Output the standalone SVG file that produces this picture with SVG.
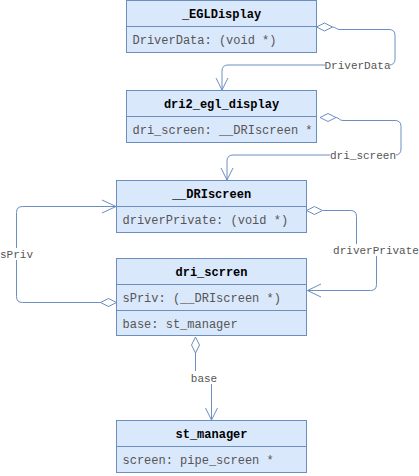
<svg xmlns="http://www.w3.org/2000/svg" width="419" height="476" viewBox="0 0 419 476">
<style>
.box{fill:#dae8fc;stroke:#6c8ebf;stroke-width:1}
.div{stroke:#6c8ebf;stroke-width:1;fill:none}
.title{font-family:"Liberation Mono","Courier New",monospace;font-size:12px;font-weight:bold;fill:#000;text-anchor:middle}
.attr{font-family:"Liberation Mono","Courier New",monospace;font-size:12px;fill:#555}
.edge{fill:none;stroke:#6c8ebf;stroke-width:1}
.dia{fill:#fff;stroke:#6c8ebf;stroke-width:1}
.lblbg{fill:#fff}
.lbl{font-family:"Liberation Mono","Courier New",monospace;font-size:11px;fill:#555;text-anchor:middle}
</style>
<rect width="419" height="476" fill="#fff"/>
<g id="connectors">
  <!-- DriverData -->
  <path class="edge" d="M332.5 27 C336 27 336 29.5 340 29.5 L389 29.5 Q395 29.5 395 35.5 L395 59 Q395 65 389 65 L228 65 Q222 65 222 71 L222 90"/>
  <polyline class="edge" points="216,78 222,90 228,78"/>
  <polygon class="dia" points="316.5,27 324.5,23 332.5,27 324.5,31"/>
  <rect class="lblbg" x="325" y="59" width="65" height="12"/>
  <text class="lbl" x="357.5" y="69">DriverData</text>
  <!-- dri_screen -->
  <path class="edge" d="M336 117.5 C339 117.5 339 120.5 343 120.5 L395 120.5 Q401 120.5 401 126.5 L401 149 Q401 155 395 155 L233 155 Q227 155 227 161 L227 180"/>
  <polyline class="edge" points="221,168 227,180 233,168"/>
  <polygon class="dia" points="320,117.5 328,113.5 336,117.5 328,121.5"/>
  <rect class="lblbg" x="330" y="149" width="66" height="12"/>
  <text class="lbl" x="363" y="159">dri_screen</text>
  <!-- driverPrivate -->
  <path class="edge" d="M322.5 210.5 L350.5 210.5 Q356.5 210.5 356.5 216.5 L356.5 244"/>
  <path class="edge" d="M376.5 256 L376.5 284.5 Q376.5 290.5 370.5 290.5 L307.5 290.5"/>
  <polyline class="edge" points="321,284 307.5,290.5 321,297"/>
  <polygon class="dia" points="306.5,210.5 314.5,206.5 322.5,210.5 314.5,214.5"/>
  <text class="lbl" x="376" y="254">driverPrivate</text>
  <!-- sPriv -->
  <path class="edge" d="M100.5 302.5 L22.5 302.5 Q16.5 302.5 16.5 296.5 L16.5 212.5 Q16.5 206.5 22.5 206.5 L116 206.5"/>
  <polyline class="edge" points="102,200 116,206.5 102,213"/>
  <polygon class="dia" points="116.5,302.5 108.5,298.5 100.5,302.5 108.5,306.5"/>
  <rect class="lblbg" x="0" y="248" width="33" height="12"/>
  <text class="lbl" x="16.5" y="258">sPriv</text>
  <!-- base -->
  <path class="edge" d="M195.5 353 L195.5 371"/>
  <path class="edge" d="M211.5 384 L211.5 420"/>
  <polyline class="edge" points="205.5,408 211.5,420 217.5,408"/>
  <polygon class="dia" points="195.5,337 199.5,345 195.5,353 191.5,345"/>
  <text class="lbl" x="204" y="382">base</text>
</g>
<g id="EGLDisplay">
  <rect class="box" x="126.5" y="0.5" width="190" height="52"/>
  <line class="div" x1="126.5" y1="26.5" x2="316.5" y2="26.5"/>
  <text class="title" x="221.5" y="18">_EGLDisplay</text>
  <text class="attr" x="132.5" y="44">DriverData: (void *)</text>
</g>
<g id="dri2_egl_display">
  <rect class="box" x="126.5" y="90.5" width="190" height="52"/>
  <line class="div" x1="126.5" y1="116.5" x2="316.5" y2="116.5"/>
  <text class="title" x="221.5" y="108">dri2_egl_display</text>
  <text class="attr" x="132.5" y="134">dri_screen: __DRIscreen *</text>
</g>
<g id="DRIscreen">
  <rect class="box" x="116.5" y="180.5" width="190" height="52"/>
  <line class="div" x1="116.5" y1="206.5" x2="306.5" y2="206.5"/>
  <text class="title" x="211.5" y="198">__DRIscreen</text>
  <text class="attr" x="122.5" y="224">driverPrivate: (void *)</text>
</g>
<g id="dri_scrren">
  <rect class="box" x="116.5" y="258.5" width="190" height="77"/>
  <line class="div" x1="116.5" y1="284.5" x2="306.5" y2="284.5"/>
  <line class="div" x1="116.5" y1="310.5" x2="306.5" y2="310.5"/>
  <text class="title" x="211.5" y="276">dri_scrren</text>
  <text class="attr" x="122.5" y="302">sPriv: (__DRIscreen *)</text>
  <text class="attr" x="122.5" y="328">base: st_manager</text>
</g>
<g id="st_manager">
  <rect class="box" x="116.5" y="420.5" width="190" height="52"/>
  <line class="div" x1="116.5" y1="446.5" x2="306.5" y2="446.5"/>
  <text class="title" x="211.5" y="438">st_manager</text>
  <text class="attr" x="122.5" y="464">screen: pipe_screen *</text>
</g>
</svg>
